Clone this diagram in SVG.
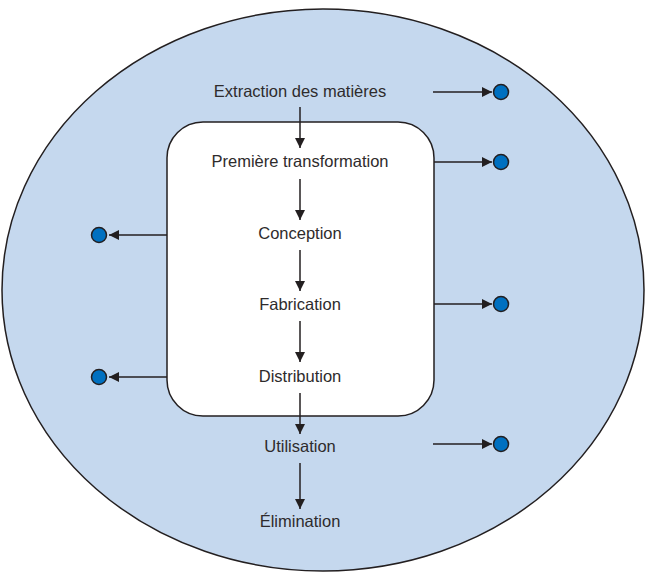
<svg xmlns="http://www.w3.org/2000/svg" width="645" height="572" viewBox="0 0 645 572">
<defs>
<marker id="ah" viewBox="0 0 10 10" refX="10" refY="5" markerWidth="10" markerHeight="10" markerUnits="userSpaceOnUse" orient="auto">
<path d="M0,0 L10,5 L0,10 z" fill="#231f20"/>
</marker>
</defs>
<style>
.lbl{font-family:"Liberation Sans","DejaVu Sans",sans-serif;font-size:16.5px;fill:#2e2b2c;text-anchor:middle}
.ln{stroke:#231f20;stroke-width:1.5;fill:none;marker-end:url(#ah)}
.dot{fill:#0070c0;stroke:#231f20;stroke-width:1.5}
</style>
<g id="environment"><ellipse cx="323" cy="290" rx="321" ry="281" fill="#c5d8ee" stroke="#231f20" stroke-width="1.5"/></g>
<g id="enterprise"><rect x="167" y="122" width="267" height="294" rx="36" ry="36" fill="#ffffff" stroke="#231f20" stroke-width="1.5"/></g>
<g id="n-extraction"><text class="lbl" x="300" y="97">Extraction des matières</text></g>
<g id="n-premiere"><text class="lbl" x="300" y="167">Première transformation</text></g>
<g id="n-conception"><text class="lbl" x="300" y="239">Conception</text></g>
<g id="n-fabrication"><text class="lbl" x="300" y="310">Fabrication</text></g>
<g id="n-distribution"><text class="lbl" x="300" y="382">Distribution</text></g>
<g id="n-utilisation"><text class="lbl" x="300" y="452">Utilisation</text></g>
<g id="n-elimination"><text class="lbl" x="300" y="527">Élimination</text></g>
<g id="d1"><circle class="dot" cx="501" cy="92" r="7.5"/></g>
<g id="d2"><circle class="dot" cx="501" cy="162" r="7.5"/></g>
<g id="d3"><circle class="dot" cx="501" cy="304" r="7.5"/></g>
<g id="d4"><circle class="dot" cx="501" cy="444" r="7.5"/></g>
<g id="d5"><circle class="dot" cx="99" cy="235" r="7.5"/></g>
<g id="d6"><circle class="dot" cx="99" cy="377" r="7.5"/></g>
<g id="connectors">
<line class="ln" x1="300" y1="107" x2="300" y2="148"/>
<line class="ln" x1="300" y1="179" x2="300" y2="220"/>
<line class="ln" x1="300" y1="250" x2="300" y2="291"/>
<line class="ln" x1="300" y1="321" x2="300" y2="362"/>
<line class="ln" x1="300" y1="393" x2="300" y2="434"/>
<line class="ln" x1="300" y1="463" x2="300" y2="509"/>
<line class="ln" x1="433" y1="92" x2="492" y2="92"/>
<line class="ln" x1="434" y1="162" x2="492" y2="162"/>
<line class="ln" x1="434" y1="304" x2="492" y2="304"/>
<line class="ln" x1="433" y1="444" x2="492" y2="444"/>
<line class="ln" x1="167" y1="235" x2="109" y2="235"/>
<line class="ln" x1="167" y1="377" x2="109" y2="377"/>
</g>
</svg>
